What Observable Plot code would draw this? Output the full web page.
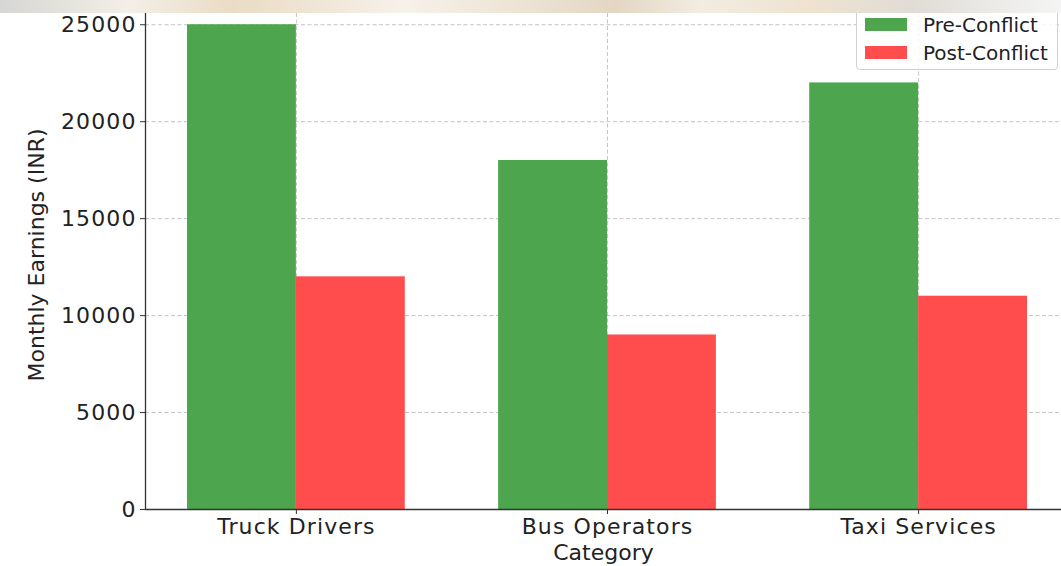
<!DOCTYPE html>
<html>
<head>
<meta charset="utf-8">
<script src="https://cdn.jsdelivr.net/npm/d3@7"></script>
<script src="https://cdn.jsdelivr.net/npm/@observablehq/plot@0.6"></script>
<style>
  html, body { margin: 0; padding: 0; background: #fff; overflow: hidden; }
  #wrap { position: relative; width: 1061px; height: 566px; }
  #chart svg { position: absolute; left: 0; top: 0; }
  #strip { position: absolute; left: 0; top: 0; width: 1061px; height: 13px; z-index: 5;
    background: linear-gradient(90deg, #d6d6d4 0%, #e4e2dc 6%, #f3efe8 12%, #eadcc4 22%, #f0e6d6 30%, #f6f1ea 38%, #eee5d6 48%, #e3d7c2 58%, #f2ece2 66%, #efe3cf 76%, #e0dcd6 86%, #ecebe8 94%, #f4f4f4 100%); }
  #legend { position: absolute; left: 856px; top: 5px; width: 202px; height: 65px; box-sizing: border-box;
    border: 1px solid #d0d0d0; border-radius: 4px; background: rgba(255,255,255,0.85); z-index: 3;
    font-family: "DejaVu Sans", sans-serif; font-size: 20px; color: #222; }
  .item { position: absolute; left: 8px; height: 14px; }
  .swatch { position: absolute; left: 0; top: 0; width: 42px; height: 13px; }
  .lab { position: absolute; left: 58px; top: -5px; white-space: nowrap; line-height: 24px; }
  g[aria-label$="tick label"] text, g[aria-label="x-label"] text { letter-spacing: 1.1px; }
</style>
</head>
<body>
<div id="wrap">
  <div id="chart"></div>
  <div id="legend"></div>
  <div id="strip"></div>
</div>
<script>
const categories = ["Truck Drivers", "Bus Operators", "Taxi Services"];
const preConflict = [25000, 18000, 22000];
const postConflict = [12000, 9000, 11000];
const seriesNames = ["Pre-Conflict", "Post-Conflict"];
const seriesColors = ["#4da64d", "#ff4d4d"];
const yTicks = [0, 5000, 10000, 15000, 20000, 25000];
const xLabel = "Category";
const yLabel = "Monthly Earnings (INR)";

const barWidth = 0.35;
const xDomain = [-0.485, 2.485];
const yDomain = [0, 26250];

const rows = categories.flatMap((c, i) => [
  {i, series: seriesNames[0], value: preConflict[i], x1: i - barWidth, x2: i},
  {i, series: seriesNames[1], value: postConflict[i], x1: i, x2: i + barWidth}
]);
const xTicks = categories.map((c, i) => i);

const gridStyle = {stroke: "#b0b0b0", strokeOpacity: 0.75, strokeDasharray: "4,2.5", strokeWidth: 1};

const chart = Plot.plot({
  width: 1061,
  height: 566,
  marginLeft: 145,
  marginRight: 0,
  marginTop: 0,
  marginBottom: 57,
  x: {type: "linear", domain: xDomain, range: [145, 1069]},
  y: {domain: yDomain, range: [509, 0]},
  color: {domain: seriesNames, range: seriesColors},
  style: {background: "transparent", fontFamily: "DejaVu Sans, sans-serif", fontSize: "22px", color: "#222", overflow: "hidden"},
  marks: [
    Plot.gridY(yTicks, gridStyle),
    Plot.gridX(xTicks, gridStyle),
    Plot.rect(rows, {x1: "x1", x2: "x2", y1: 0, y2: "value", fill: "series"}),
    Plot.ruleX([xDomain[0]], {stroke: "#333", strokeWidth: 1.3}),
    Plot.ruleY([0], {stroke: "#333", strokeWidth: 1.3}),
    Plot.axisY(yTicks, {tickSize: 5, tickPadding: 4, tickFormat: d => `${d}`, label: null, fontSize: 22, stroke: "#333"}),
    Plot.axisX(xTicks, {tickSize: 5, tickPadding: 4, tickFormat: i => categories[i], label: null, fontSize: 22, stroke: "#333"}),
    Plot.text([yLabel], {frameAnchor: "left", dx: -109, rotate: -90, fontSize: 22, textAnchor: "middle", lineAnchor: "middle", fill: "#222"}),
    Plot.text([xLabel], {frameAnchor: "bottom", dy: 43, fontSize: 22, textAnchor: "middle", lineAnchor: "middle", fill: "#222", ariaLabel: "x-label"})
  ]
});
document.getElementById("chart").appendChild(chart);

const legend = document.getElementById("legend");
seriesNames.forEach((name, k) => {
  const item = document.createElement("div");
  item.className = "item";
  item.style.top = (12 + k * 28) + "px";
  const sw = document.createElement("div");
  sw.className = "swatch";
  sw.style.background = seriesColors[k];
  const lab = document.createElement("div");
  lab.className = "lab";
  lab.textContent = name;
  item.appendChild(sw);
  item.appendChild(lab);
  legend.appendChild(item);
});
</script>
</body>
</html>
